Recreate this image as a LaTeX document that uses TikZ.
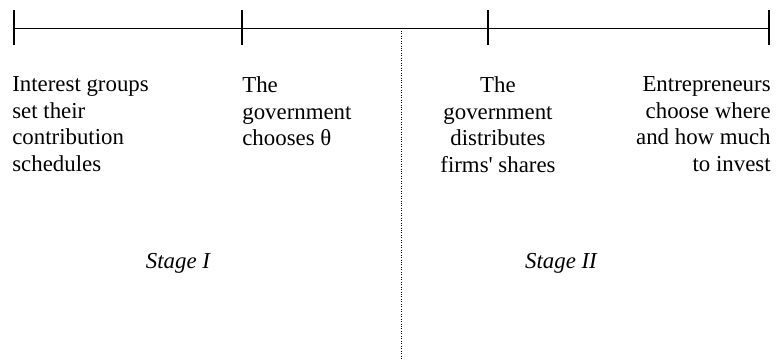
\documentclass[tikz,border=0pt]{standalone}
\usepackage{fontspec}
\setmainfont{Liberation Serif}
\usepackage{tikz}

\begin{document}
\begin{tikzpicture}[
  font=\fontsize{13}{15.1}\selectfont,
  axis/.style={draw=black, line width=0.6pt},
  split/.style={draw=black, line width=0.4pt, densely dotted},
  evt/.style={inner sep=0pt, anchor=north west, align=left},
  stage/.style={inner sep=0pt, anchor=base, font=\fontsize{13}{15.1}\selectfont\itshape}
]
\useasboundingbox (0,0) rectangle (15.58,-7.22);
% time line and its ticks
\coordinate (t0) at (0.28,-0.566);
\coordinate (t1) at (4.84,-0.566);
\coordinate (t2) at (9.76,-0.566);
\coordinate (t3) at (15.38,-0.566);
\draw[axis] (t0) -- (t3);
\foreach \t in {t0,t1,t2,t3}
  \draw[axis] ([yshift=0.36cm]\t) -- ([yshift=-0.34cm]\t);
% boundary between the two stages
\coordinate (mid) at (8.02,-0.566);
\coordinate (midend) at (8.02,-7.18);
\draw[split] (mid) -- (midend);
% events
\node[evt] (grp) at (0.24,-1.53) {Interest groups\\set their\\contribution\\schedules};
\node[evt] (gov) at (4.84,-1.53) {The\\government\\chooses θ};
\node[evt, anchor=north, align=center] (dist) at (9.96,-1.53)
  {The\\government\\distributes\\firms\textquotesingle{} shares};
\node[evt, anchor=north east, align=right] (inv) at (15.42,-1.53)
  {Entrepreneurs\\choose where\\and how much\\to invest};
\node[stage] (st1) at (3.56,-5.36) {Stage I};
\node[stage] (st2) at (11.22,-5.36) {Stage II};
\end{tikzpicture}
\end{document}
